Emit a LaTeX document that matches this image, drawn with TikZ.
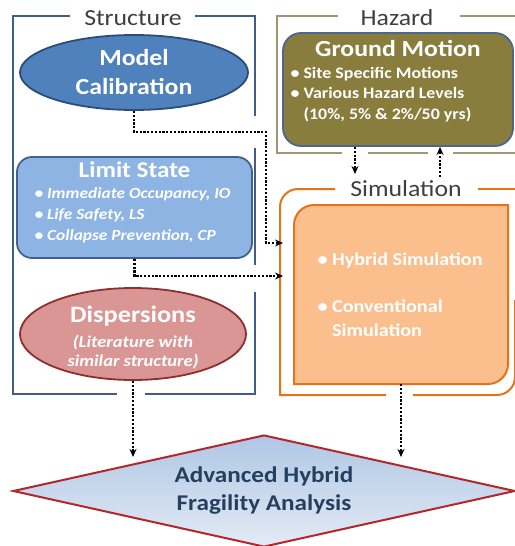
\documentclass[tikz,border=0pt]{standalone}
\usepackage{fontspec}
\setmainfont{Carlito}[FakeStretch=1.12]
\usetikzlibrary{positioning,shapes.geometric,arrows.meta}

\definecolor{strucblue}{HTML}{3D5F8A}
\definecolor{hazgray}{HTML}{9D9677}
\definecolor{simorange}{HTML}{E4731A}
\definecolor{labelgray}{HTML}{3F3F3F}
\definecolor{mcfill}{HTML}{4F81BD}
\definecolor{mcline}{HTML}{2C4D7A}
\definecolor{lsfill}{HTML}{8DB4E2}
\definecolor{lsline}{HTML}{41618E}
\definecolor{dpfill}{HTML}{D99694}
\definecolor{dpline}{HTML}{8E2F2E}
\definecolor{gmfill}{HTML}{887D3D}
\definecolor{gmline}{HTML}{4C6690}
\definecolor{simfill}{HTML}{FBBF8E}
\definecolor{fatop}{HTML}{AFC6E4}
\definecolor{fabot}{HTML}{E3EBF5}
\definecolor{faline}{HTML}{B3262C}
\definecolor{fatext}{HTML}{243F60}

\begin{document}
\begin{tikzpicture}[x=1pt, y=-1pt, >={Stealth[length=8pt,width=7pt]},
    frame label/.style={font=\fontsize{23}{27}\selectfont, text=labelgray, anchor=base},
    box title/.style={font=\bfseries\fontsize{23}{28}\selectfont, text=white, anchor=base},
    box items/.style={font=\bfseries\fontsize{15.5}{21}\selectfont, text=white, align=left, anchor=base west},
    flow/.style={->, line width=2.2pt, dash pattern=on 2.2pt off 1.6pt},
    struc frame/.style={draw=strucblue, line width=2pt},
    haz frame/.style={draw=hazgray, line width=2pt},
    sim frame/.style={draw=simorange, line width=2pt},
    blob/.style={ellipse, line width=1.8pt, inner sep=0pt}]

	\useasboundingbox (0,0) rectangle (514,546);

	% frames
	\draw [struc frame] (70,16) -- (13,16) -- (13,394) -- (117,394);
	\draw [struc frame] (195,16) -- (255,16) -- (255,116);
	\draw [struc frame] (255,148) -- (255,265);
	\draw [struc frame] (145,394) -- (255,394) -- (255,292);

	\draw [haz frame] (338,16) -- (277,16) -- (277,153) -- (342,153);
	\draw [haz frame] (460,16) -- (516,16);
	\draw [haz frame] (368,153) -- (428,153);
	\draw [haz frame] (453,153) -- (516,153);

	\draw [sim frame] (335,189) -- (298,189) arc (270:180:18) -- (280,395) -- (386,395);
	\draw [sim frame] (413,395) -- (497,395) arc (90:0:18) -- (515,300);
	\draw [sim frame] (478,189) -- (516,189);

	\node [frame label] (lbl-struc) at (133,25) {Structure};
	\node [frame label] (lbl-haz) at (397,25) {Hazard};
	\node [frame label] (lbl-sim) at (406,196) {Simulation};

	% boxes
	\node [blob, fill=mcfill, draw=mcline, minimum width=228pt, minimum height=75pt,
	  font=\bfseries\fontsize{23}{29}\selectfont, text=white, align=center]
	  (mc) at (134,72.5) {Model\\Calibration};

	\node [rectangle, rounded corners=15pt, fill=lsfill, draw=lsline, line width=1.8pt,
	  minimum width=235pt, minimum height=101pt] (ls) at (134.5,207.5) {};

	\node [blob, fill=dpfill, draw=dpline, minimum width=226pt, minimum height=92pt]
	  (dp) at (133,334) {};

	\node [rectangle, rounded corners=18pt, fill=gmfill, draw=gmline, line width=1.8pt,
	  minimum width=230pt, minimum height=113pt] (gm) at (398,89.5) {};

	\node [minimum width=214pt, minimum height=179pt, inner sep=0pt] (sim) at (401,294.5) {};
	\filldraw [fill=simfill, draw=simorange, line width=2pt]
	  (294,384) -- (294,225) arc (180:270:20) -- (508,205) -- (508,364) arc (0:90:20) -- cycle;

	\node [diamond, top color=fatop, bottom color=fabot, draw=faline, line width=2pt,
	  minimum width=502pt, minimum height=112pt, inner sep=0pt, aspect=4.5,
	  font=\bfseries\fontsize{22.5}{28}\selectfont, text=fatext, align=center]
	  (fa) at (264,491) {Advanced Hybrid\\Fragility Analysis};

	% texts (multi-line nodes sit on their last baseline)
	\node [box title, font=\bfseries\fontsize{22.5}{28}\selectfont] (ls-title) at (134.5,177) {Limit State};
	\node [box items, font=\bfseries\itshape\fontsize{15.5}{21}\selectfont] (ls-items) at (31,240)
	  {• Immediate Occupancy, IO\\• Life Safety, LS\\• Collapse Prevention, CP};

	\node [box title, font=\bfseries\fontsize{23.5}{28}\selectfont] (dp-title) at (133,322) {Dispersions};
	\node [box title, font=\bfseries\itshape\fontsize{16.5}{19.5}\selectfont, align=center] (dp-note) at (133,366.5)
	  {(Literature with\\similar structure)};

	\node [box title] (gm-title) at (398,56) {Ground Motion};
	\node [box items, font=\bfseries\fontsize{16}{20.5}\selectfont] (gm-items) at (287,119)
	  {• Site Specific Motions\\• Various Hazard Levels\\\hphantom{•} (10\%, 5\% \& 2\%/50 yrs)};

	\node [box items, font=\bfseries\fontsize{18}{24}\selectfont] (sim-items) at (314,336)
	  {• Hybrid Simulation\\[23pt]• Conventional\\\hphantom{•} Simulation};

	% flows
	\coordinate (bend) at (266,132);
	\coordinate (sim-in-a) at (283,243);
	\coordinate (sim-in-b) at (283,276);
	\coordinate (gm-out) at (355,174);
	\coordinate (gm-in) at (440,177);
	\coordinate (fa-in) at (131,457);

	\draw [flow] (mc.south) |- (bend) |- (sim-in-a);
	\draw [flow] (ls.south) |- (sim-in-b);
	\draw [flow] (gm.south -| gm-out) -- (gm-out);
	\draw [flow] (gm-in) -- (gm-in |- gm.south);
	\draw [flow] (dp.south) -- (dp.south |- fa-in);
	\draw [flow] (sim.south) -- (sim.south |- fa-in);

\end{tikzpicture}
\end{document}
